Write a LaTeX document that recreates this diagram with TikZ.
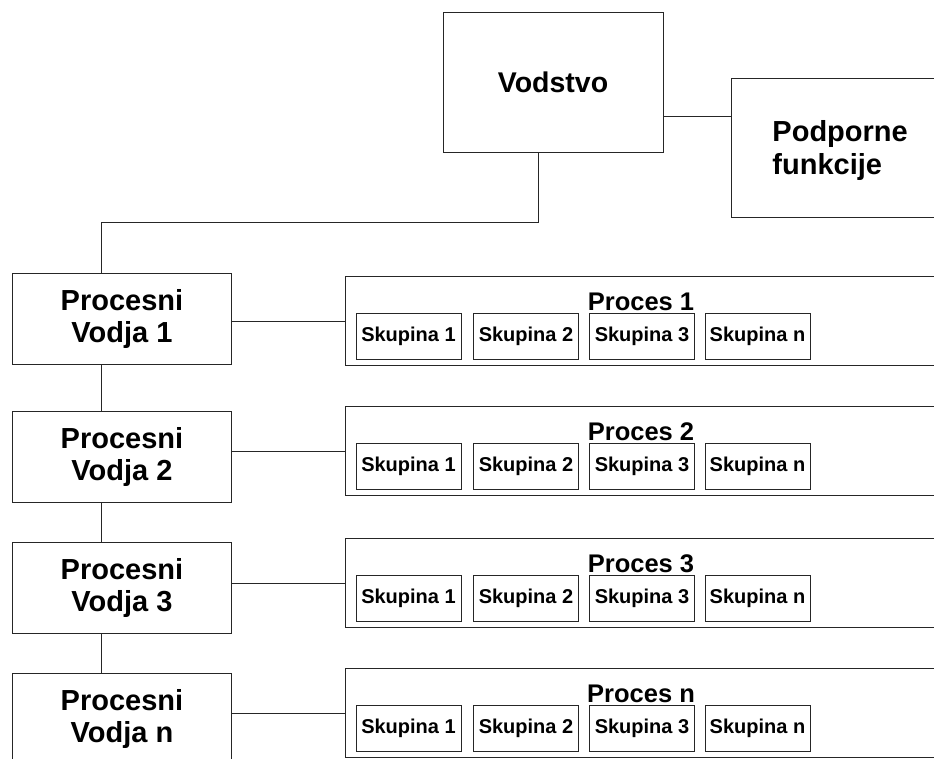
\documentclass[tikz,border=0pt]{standalone}
\usepackage{fontspec}
\setmainfont{Liberation Sans}
\usetikzlibrary{calc}
\begin{document}
\begin{tikzpicture}[x=1pt,y=-1pt,
  box/.style={draw=black!85, line width=0.9pt, rectangle, inner sep=0pt},
  wire/.style={draw=black!85, line width=0.9pt},
  head/.style={box, minimum width=220pt, minimum height=140pt,
    font=\fontsize{28.5}{32}\selectfont\bfseries},
  support/.style={box, anchor=north west, minimum width=220pt, minimum height=139pt,
    text width=138pt, inner xsep=41pt, align=left,
    font=\fontsize{29}{33}\selectfont\bfseries},
  lead/.style={box, anchor=north west, minimum width=219pt, minimum height=91pt,
    align=center, font=\fontsize{29}{32.5}\selectfont\bfseries},
  proc/.style={box, anchor=north west, minimum width=620pt, minimum height=89pt},
  ptitle/.style={anchor=base, inner sep=0pt, font=\fontsize{25.5}{28}\selectfont\bfseries},
  grp/.style={box, minimum width=105pt, minimum height=46pt,
    font=\fontsize{20}{22}\selectfont\bfseries}
]
\useasboundingbox (0,0) rectangle (934,758);
\clip (0,0) rectangle (934,758);

% top level
\node[head] (vod) at (553,82) {Vodstvo};
\node[support] (pod) at (731,78) {\rule{0pt}{27pt}Podporne\\funkcije};
\draw[wire] ([yshift=-34pt]vod.east) -- ([yshift=-34pt]vod.east -| pod.west);

% process rows: leader box, process frame, title and groups
\foreach \i/\lab/\T/\P in {1/1/273/276, 2/2/411/406, 3/3/542/538, 4/n/673/668} {
  \node[lead] (v\i) at (12,\T) {Procesni\\Vodja \lab};
  \node[proc] (p\i) at (345,\P) {};
  \node[ptitle] (t\i) at (641,\P+34) {Proces \lab};
  \foreach \k/\x/\s in {1/408.5/1, 2/526/2, 3/642/3, 4/757.5/n}
    \node[grp] (s\i\k) at (\x,\P+60) {Skupina \s};
  \draw[wire] (p\i.west) -- (p\i.west -| v\i.east);
}

% vertical spine linking the leaders
\draw[wire] ([xshift=-15pt]vod.south) -- ++(0,70) -| ([xshift=-20.5pt]v1.north);
\draw[wire] ([xshift=-20.5pt]v1.south) -- ([xshift=-20.5pt]v2.north);
\draw[wire] ([xshift=-20.5pt]v2.south) -- ([xshift=-20.5pt]v3.north);
\draw[wire] ([xshift=-20.5pt]v3.south) -- ([xshift=-20.5pt]v4.north);
\end{tikzpicture}
\end{document}
